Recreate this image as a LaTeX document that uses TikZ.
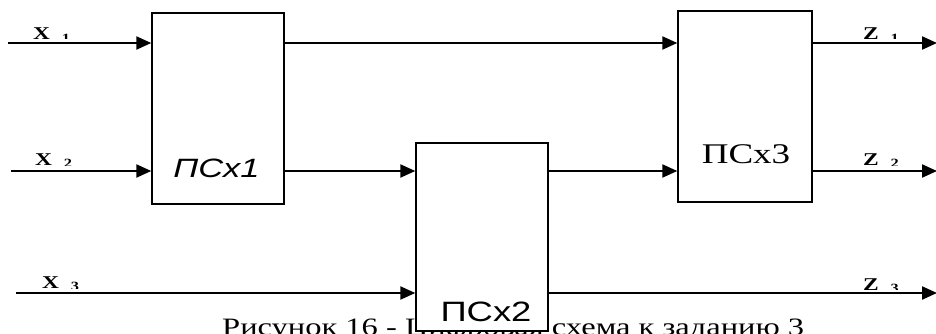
\documentclass[tikz,border=0pt]{standalone}
\usepackage{fontspec}
\usepackage{graphicx}
\setmainfont{Liberation Serif}
\setsansfont{Liberation Sans}
\usetikzlibrary{arrows.meta}

% the source picture is stretched sideways
\newcommand{\wide}[1]{\scalebox{1.3}[1]{#1}}
% signal name, cut off just above its line
\newcommand{\sigcut}[5]{%
  \begin{scope}
    \clip (#2-4,#3-24) rectangle (#2+45,#4);
    \node[sig, anchor=base west] (#1) at (#2,#3) {\wide{#5}};
  \end{scope}}

\begin{document}
\begin{tikzpicture}[
  x=1pt, y=-1pt,
  box/.style={draw, line width=1.4pt, fill=white, inner sep=0pt},
  arrow/.style={-{Triangle[length=15pt,width=13pt]}, line width=2.2pt},
  sig/.style={inner sep=0pt, font=\fontsize{18}{21}\selectfont\bfseries}
]
\useasboundingbox (0,0) rectangle (936,334);

\node[anchor=base west, inner sep=0pt, font=\fontsize{25}{30}\selectfont] (caption) at (222,335)
  {\wide{Рисунок 16 - Цифровая схема к заданию 3}};

\node[box, minimum width=132pt, minimum height=191pt] (ps1) at (218,108.5) {};
\node[box, minimum width=132pt, minimum height=188pt] (ps2) at (482,237) {};
\node[box, minimum width=134pt, minimum height=191pt] (ps3) at (745,106.5) {};

\node[anchor=base, inner sep=0pt, font=\fontsize{26.5}{30}\selectfont\sffamily\itshape] (ps1text) at (216.5,177) {\wide{ПСх1}};
\node[anchor=base, inner sep=0pt, font=\fontsize{28}{32}\selectfont\sffamily] (ps2text) at (486,321) {\wide{ПСх2}};
\node[anchor=base, inner sep=0pt, font=\fontsize{28.5}{32}\selectfont] (ps3text) at (746,163) {\wide{ПСх3}};

\coordinate (x1) at (8,43);
\coordinate (x2) at (11,171);
\coordinate (x3) at (16,293);
\coordinate (z1) at (937,43);
\coordinate (z2) at (937,171);
\coordinate (z3) at (937,293);

\sigcut{x1name}{33}{40}{39}{X\enspace\textsubscript{1}}
\sigcut{x2name}{35}{165}{165}{X\enspace\textsubscript{2}}
\sigcut{x3name}{42}{288}{288}{X\enspace\textsubscript{3}}
\sigcut{z1name}{863}{40}{39}{Z\enspace\textsubscript{1}}
\sigcut{z2name}{863}{165}{165}{Z\enspace\textsubscript{2}}
\sigcut{z3name}{863}{290}{289}{Z\enspace\textsubscript{3}}

\draw[arrow] (x1) -- (x1 -| ps1.west);
\draw[arrow] (x2) -- (x2 -| ps1.west);
\draw[arrow] (x3) -- (x3 -| ps2.west);
\draw[arrow] (ps1.east |- x1) -- (ps3.west |- x1);
\draw[arrow] (ps1.east |- x2) -- (ps2.west |- x2);
\draw[arrow] (ps2.east |- x2) -- (ps3.west |- x2);
\draw[arrow] (ps3.east |- z1) -- (z1);
\draw[arrow] (ps3.east |- z2) -- (z2);
\draw[arrow] (ps2.east |- z3) -- (z3);
\end{tikzpicture}
\end{document}
